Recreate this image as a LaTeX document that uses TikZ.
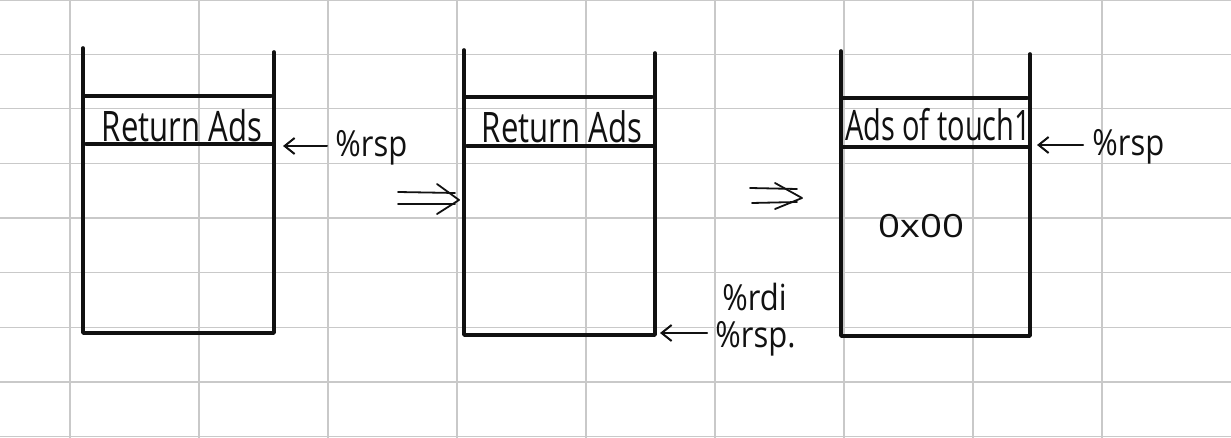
\documentclass[tikz,border=0pt]{standalone}
\usepackage{fontspec}
\setmainfont{Open Sans}
\usetikzlibrary{arrows.meta}
\definecolor{gridgray}{HTML}{C9C9C9}
\definecolor{ink}{HTML}{111111}
\begin{document}
\begin{tikzpicture}[x=0.5pt,y=-0.5pt,
  gridline/.style={draw=gridgray,line width=0.6pt},
  stackline/.style={draw=ink,line width=1.8pt,line cap=round,line join=round},
  ptr/.style={draw=ink,line width=1pt,line cap=round,-{Straight Barb[length=5pt,width=8pt]}},
  implyline/.style={draw=ink,line width=0.9pt,line cap=round,line join=round},
  lbl/.style={inner sep=0pt,text=ink,font=\fontsize{18}{20}\selectfont},
  cell/.style={inner sep=0pt,text=ink,font=\fontsize{21}{24}\selectfont}]
\useasboundingbox (0,0) rectangle (1231,438);
\fill[white] (0,0) rectangle (1231,438);
% grid
\foreach \gx in {70,199,328,457,586,715,844,973,1102}
  \draw[gridline] (\gx,0) -- (\gx,438);
\foreach \gy in {0.5,54.3,108.9,163.5,218.1,272.7,327.3,381.9,436.8}
  \draw[gridline] (0,\gy) -- (1231,\gy);

% stack 1
\draw[stackline] (83,48) -- (83,333) -- (274,333) -- (274,52);
\draw[stackline] (83,96) -- (271,96);
\draw[stackline] (86,144) -- (274,144);
\node[cell,anchor=base] (ret1) at (182,142) {\scalebox{0.74}[1]{Return Ads}};
\coordinate (s1top) at (283,146);
\node[lbl,anchor=base west] (rsp1) at (335,157) {\scalebox{0.86}[1]{\%rsp}};
\draw[ptr] (rsp1.west |- s1top) ++(-4pt,0) -- (s1top);

% implies 1
\coordinate (i1a) at (398,192);
\coordinate (i1b) at (398,204);
\coordinate (i1tip) at (459,200);
\draw[implyline] (i1a) -- (455,193);
\draw[implyline] (i1b) -- (455,204);
\draw[implyline] (437,184) -- (i1tip) -- (437,214);

% stack 2
\draw[stackline] (464,50) -- (464,335) -- (655,335) -- (655,53);
\draw[stackline] (464,97) -- (652,97);
\draw[stackline] (467,146) -- (655,146);
\node[cell,anchor=base] (ret2) at (562,143) {\scalebox{0.74}[1]{Return Ads}};
\node[lbl,anchor=base west] (rdi2) at (722,310) {\scalebox{0.86}[1]{\%rdi}};
\node[lbl,anchor=base west] (rsp2) at (715,347) {\scalebox{0.86}[1]{\%rsp.}};
\coordinate (s2bot) at (660,333);
\draw[ptr] (707,333) -- (s2bot);

% implies 2
\coordinate (i2tip) at (802,198);
\draw[implyline] (750,188) -- (797,189);
\draw[implyline] (752,203) -- (797,202);
\draw[implyline] (775,183) -- (i2tip) -- (775,209);

% stack 3
\draw[stackline] (841,51) -- (841,336) -- (1030,336) -- (1030,54);
\draw[stackline] (841,98) -- (1027,98);
\draw[stackline] (843,147) -- (1030,147);
\node[cell,anchor=base] (ads3) at (938,141) {\scalebox{0.69}[1]{Ads of touch1}};
\node[cell,anchor=center,font=\fontsize{16}{18}\selectfont] (val3) at (921,226) {\scalebox{1.2}[1]{0x00}};
\coordinate (s3top) at (1037,145);
\node[lbl,anchor=base west] (rsp3) at (1092,156) {\scalebox{0.86}[1]{\%rsp}};
\draw[ptr] (1083,145) -- (s3top);
\end{tikzpicture}
\end{document}
